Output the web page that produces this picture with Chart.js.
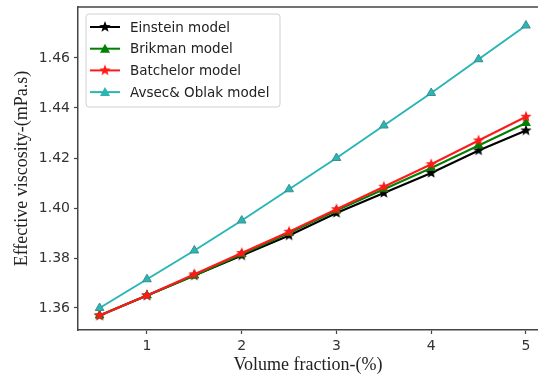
<!DOCTYPE html>
<html>
<head>
<meta charset="utf-8">
<script src="https://cdn.jsdelivr.net/npm/chart.js@4"></script>
<style>
  html, body { margin: 0; padding: 0; background: #fff; overflow: hidden; }
  #wrap { width: 538px; height: 378px; }
</style>
</head>
<body>
<div id="wrap"><canvas id="c" width="538" height="378"></canvas></div>
<script>
// data
var fractions = [0.5, 1, 1.5, 2, 2.5, 3, 3.5, 4, 4.5, 5];
var einstein  = [1.357, 1.365, 1.373, 1.381, 1.389, 1.398, 1.406, 1.414, 1.423, 1.431];
var brikman   = [1.357, 1.365, 1.373, 1.3815, 1.390, 1.399, 1.4075, 1.416, 1.425, 1.434];
var batchelor = [1.357, 1.365, 1.3735, 1.382, 1.3905, 1.3995, 1.4085, 1.4175, 1.427, 1.4365];
var avsec     = [1.360, 1.3715, 1.383, 1.395, 1.4075, 1.420, 1.433, 1.446, 1.4595, 1.473];
var seriesNames = ['Einstein model', 'Brikman model', 'Batchelor model', 'Avsec& Oblak model'];
var xTicks = [1, 2, 3, 4, 5];
var yTicks = [1.36, 1.38, 1.40, 1.42, 1.44, 1.46];

function starImg(color, r) {
  var c = document.createElement('canvas');
  c.width = c.height = r * 2 + 2;
  var g = c.getContext('2d');
  g.beginPath();
  for (var i = 0; i < 10; i++) {
    var rad = i % 2 === 0 ? r : r * 0.42;
    var a = -Math.PI / 2 + i * Math.PI / 5;
    var px = r + 1 + rad * Math.cos(a), py = r + 1 + rad * Math.sin(a);
    if (i === 0) g.moveTo(px, py); else g.lineTo(px, py);
  }
  g.closePath();
  g.fillStyle = color;
  g.fill();
  return c;
}

function pts(arr) {
  return arr.map(function (v, i) { return { x: fractions[i], y: v }; });
}

var colors = ['#000000', '#008000', '#ff1a1a', '#2bb5b5'];
var markers = [starImg('#000000', 6), 'triangle', starImg('#ff1a1a', 6), 'triangle'];
var values = [einstein, brikman, batchelor, avsec];

var datasets = values.map(function (v, i) {
  return {
    label: seriesNames[i],
    data: pts(v),
    borderColor: colors[i],
    backgroundColor: colors[i],
    borderWidth: 2,
    pointStyle: markers[i],
    pointRadius: 5,
    pointBorderColor: i === 3 ? '#3a8f8f' : colors[i],
    pointBorderWidth: 1,
    order: 3 - i,
    tension: 0
  };
});

var frame = {
  id: 'frame',
  afterDraw: function (chart) {
    var ctx = chart.ctx, a = chart.chartArea;
    ctx.save();
    ctx.strokeStyle = '#444';
    ctx.lineWidth = 1.5;
    ctx.beginPath();
    ctx.moveTo(a.left, a.top);
    ctx.lineTo(chart.width, a.top);
    ctx.stroke();

    // legend box inside the plot
    var bx = 86, by = 14, bw = 194, bh = 93;
    ctx.beginPath();
    ctx.roundRect(bx, by, bw, bh, 3);
    ctx.fillStyle = 'rgba(255,255,255,0.85)';
    ctx.fill();
    ctx.strokeStyle = '#d0d0d0';
    ctx.lineWidth = 1;
    ctx.stroke();
    ctx.font = '13.5px "DejaVu Sans"';
    ctx.textBaseline = 'middle';
    chart.data.datasets.forEach(function (ds, i) {
      var y = 27 + i * 21.7;
      ctx.strokeStyle = ds.borderColor;
      ctx.lineWidth = 2;
      ctx.beginPath();
      ctx.moveTo(90, y);
      ctx.lineTo(120, y);
      ctx.stroke();
      if (typeof ds.pointStyle === 'string') {
        ctx.fillStyle = ds.borderColor;
        ctx.beginPath();
        ctx.moveTo(105, y - 5);
        ctx.lineTo(110, y + 4);
        ctx.lineTo(100, y + 4);
        ctx.closePath();
        ctx.fill();
      } else {
        ctx.drawImage(ds.pointStyle, 105 - 7, y - 7);
      }
      ctx.fillStyle = '#222';
      ctx.fillText(ds.label, 130, y + 1);
    });
    ctx.restore();
  }
};

new Chart(document.getElementById('c'), {
  type: 'line',
  data: { datasets: datasets },
  options: {
    responsive: false,
    animation: false,
    devicePixelRatio: 1,
    layout: { autoPadding: false, padding: { top: 7, left: 0, right: 0, bottom: 0 } },
    plugins: { legend: { display: false }, tooltip: { enabled: false } },
    scales: {
      x: {
        type: 'linear',
        min: 0.272,
        max: 5.127,
        afterFit: function (s) { s.height = 48; s.paddingLeft = 0; s.paddingRight = 0; },
        afterBuildTicks: function (s) { s.ticks = xTicks.map(function (v) { return { value: v }; }); },
        grid: { display: true, drawOnChartArea: false, drawTicks: true, tickLength: 4, tickColor: '#444', tickWidth: 1.2 },
        border: { display: true, color: '#444', width: 1.5 },
        ticks: {
          color: '#333', padding: 4, maxRotation: 0,
          font: { family: 'DejaVu Sans', size: 14 },
          callback: function (v) { return String(v); }
        },
        title: {
          display: true, text: 'Volume fraction-(%)', color: '#222',
          font: { family: 'Liberation Serif', size: 18 },
          padding: { top: 0, bottom: 2 }
        }
      },
      y: {
        type: 'linear',
        min: 1.3512,
        max: 1.4804,
        afterFit: function (s) { s.width = 78; s.paddingTop = 0; s.paddingBottom = 0; },
        afterBuildTicks: function (s) { s.ticks = yTicks.map(function (v) { return { value: v }; }); },
        grid: { display: true, drawOnChartArea: false, drawTicks: true, tickLength: 4, tickColor: '#444', tickWidth: 1.2 },
        border: { display: true, color: '#444', width: 1.5 },
        ticks: {
          color: '#333', padding: 4,
          font: { family: 'DejaVu Sans', size: 14 },
          callback: function (v) { return Number(v).toFixed(2); }
        },
        title: {
          display: true, text: 'Effective viscosity-(mPa.s)', color: '#222',
          font: { family: 'Liberation Serif', size: 18 },
          padding: { top: 11, bottom: 0 }
        }
      }
    }
  },
  plugins: [frame]
});
</script>
</body>
</html>
